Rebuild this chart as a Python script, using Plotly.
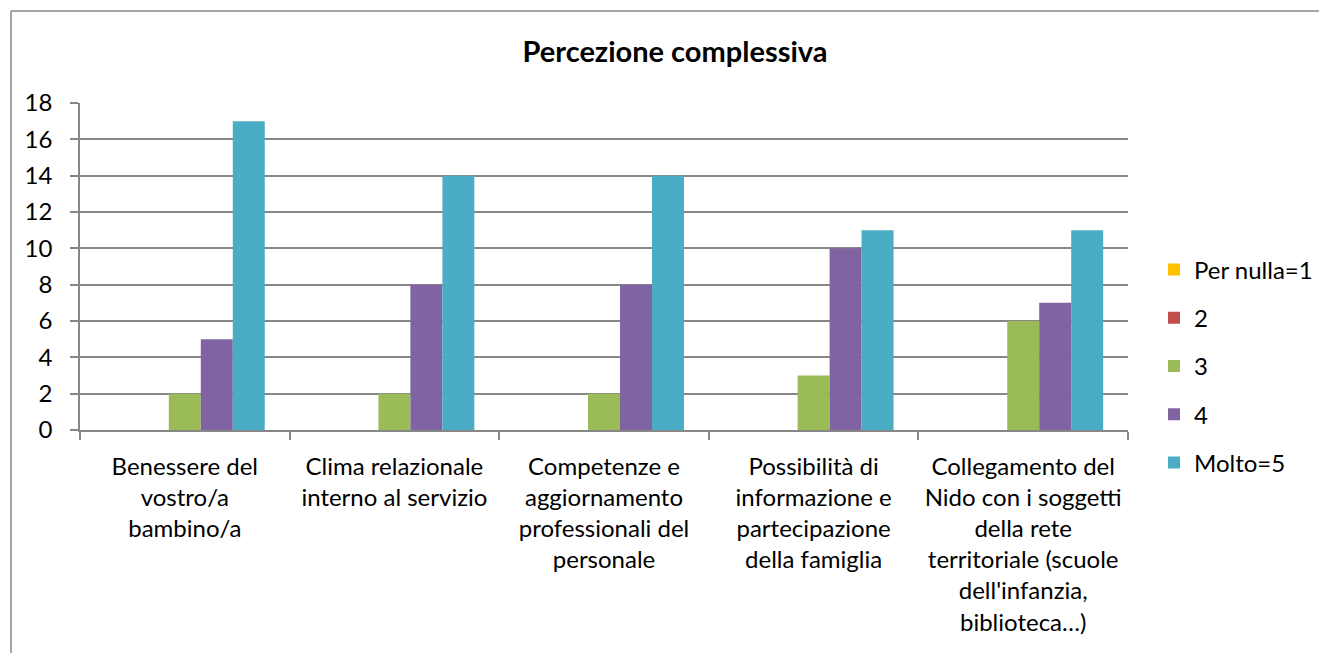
import plotly.graph_objects as go

categories = [
    "Benessere del<br>vostro/a<br>bambino/a",
    "Clima relazionale<br>interno al servizio",
    "Competenze e<br>aggiornamento<br>professionali del<br>personale",
    "Possibilità di<br>informazione e<br>partecipazione<br>della famiglia",
    "Collegamento del<br>Nido con i soggetti<br>della rete<br>territoriale (scuole<br>dell'infanzia,<br>biblioteca…)",
]
series_names = ["Per nulla=1", "2", "3", "4", "Molto=5"]
per_nulla_1 = [0, 0, 0, 0, 0]
val_2 = [0, 0, 0, 0, 0]
val_3 = [2, 2, 2, 3, 6]
val_4 = [5, 8, 8, 10, 7]
molto_5 = [17, 14, 14, 11, 11]
series_values = [per_nulla_1, val_2, val_3, val_4, molto_5]
colors = ["#FFC000", "#C0504D", "#9BBB59", "#8064A2", "#4BACC6"]
y_ticks = list(range(0, 19, 2))

FONT = "Lato"
OFF = 8  # page body margin
W, H = 1327 - OFF, 653 - OFF
L, R, T, B = 80 - OFF, 1128 - OFF, 103 - OFF, 430 - OFF

def px(p):
    return (p - OFF - L) / (R - L)

def py(p):
    return 1 - (p - OFF - T) / (B - T)

fig = go.Figure()
for name, vals, c in zip(series_names, series_values, colors):
    fig.add_trace(go.Bar(
        x=categories, y=vals, name=name, marker=dict(color=c, line=dict(width=0)),
        legendgroup=name,
    ))

gray = "#878787"
fig.update_layout(
    width=W, height=H,
    margin=dict(l=L, r=W - R, t=T, b=H - B, autoexpand=False),
    paper_bgcolor="white", plot_bgcolor="white",
    barmode="group", bargap=0.237, bargroupgap=0,
    font=dict(family=FONT, size=24, color="black"),
    title=dict(text="<b>Percezione complessiva</b>", font=dict(family=FONT, size=29, color="black"),
               x=px(675), xref="paper", xanchor="center",
               y=1 - (52 - OFF) / H, yanchor="middle"),
    xaxis=dict(showline=True, linecolor=gray, linewidth=1.5, ticks="outside", tickson="boundaries",
               ticklen=8, tickcolor=gray, tickwidth=1.5, showgrid=False,
               tickfont=dict(family=FONT, size=24, color="black"), tickangle=0,
               ticklabelstandoff=14),
    yaxis=dict(range=[0, 18], tickvals=y_ticks, showline=True, linecolor=gray, linewidth=1.5,
               ticks="outside", ticklen=8, tickcolor=gray, tickwidth=1.5,
               showgrid=True, gridcolor=gray, gridwidth=1.5, zeroline=False,
               tickfont=dict(family=FONT, size=24, color="black"),
               ticklabelstandoff=13),
    legend=dict(x=px(1154), xanchor="left", y=py(366), yanchor="middle",
                font=dict(family=FONT, size=24, color="black"), tracegroupgap=14,
                bgcolor="rgba(0,0,0,0)", itemsizing="constant"),
    showlegend=True,
)

bx = px(11)
by = py(11)
fig.add_shape(type="line", xref="paper", yref="paper", x0=bx, x1=bx, y0=-2, y1=by,
              line=dict(color=gray, width=1.5))
fig.add_shape(type="line", xref="paper", yref="paper", x0=bx, x1=1.5, y0=by, y1=by,
              line=dict(color=gray, width=1.5))

fig.write_html("out.html")
